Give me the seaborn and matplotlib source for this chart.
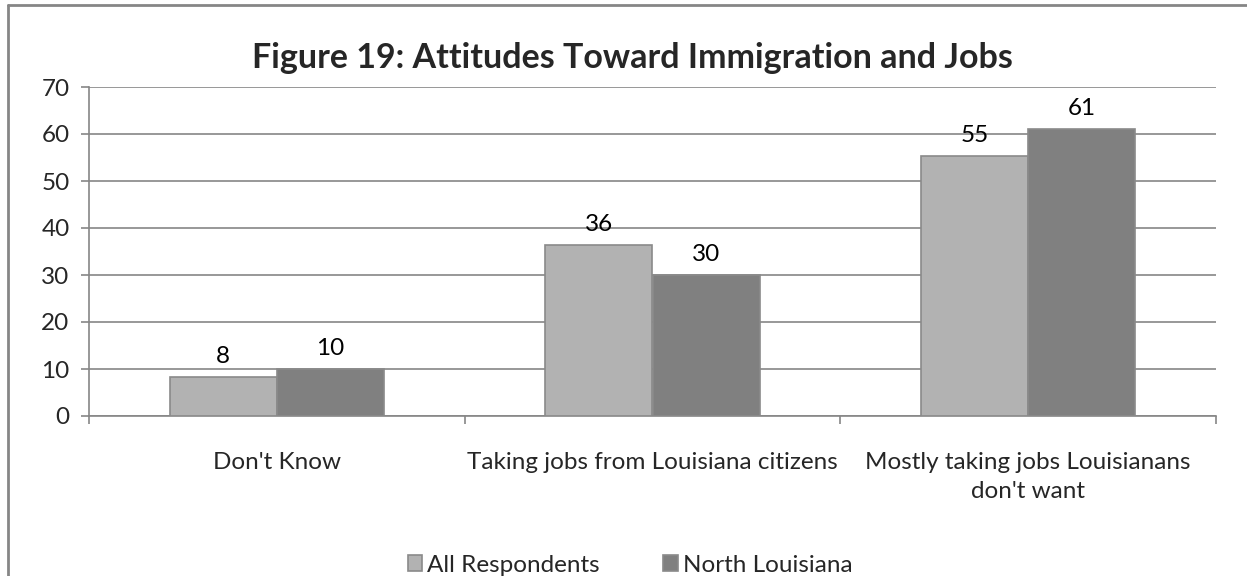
import numpy as np
import pandas as pd
import seaborn as sns
import matplotlib.pyplot as plt
from matplotlib.lines import Line2D

# values (bar heights), labels shown rounded
categories = ["Don't Know", "Taking jobs from Louisiana citizens",
              "Mostly taking jobs Louisianans\ndon't want"]
all_respondents = [8.4, 36.4, 55.3]
north_louisiana = [10.0, 30.0, 61.1]
series = ["All Respondents", "North Louisiana"]
colors = ["#b2b2b2", "#808080"]

df = pd.DataFrame({
    "category": categories * 2,
    "value": all_respondents + north_louisiana,
    "group": [series[0]] * 3 + [series[1]] * 3,
})

sns.set_style("white")
plt.rcParams['font.family'] = ['Lato', 'DejaVu Sans']

fig = plt.figure(figsize=(12.47, 5.76), dpi=100)
ax = fig.add_axes([89 / 1247, 1 - 416 / 576, (1216 - 89) / 1247, (416 - 87) / 576])

sns.barplot(data=df, x="category", y="value", hue="group", palette=colors,
            width=0.57, edgecolor="#8a8a8a", linewidth=1.2, saturation=1,
            ax=ax, legend=True, zorder=3)

for cont in ax.containers:
    ax.bar_label(cont, fmt="%.0f", padding=7, fontsize=17.5, color="black")

ax.set_ylim(0, 70)
ax.set_xlim(-0.5, 2.5)
ax.set_yticks(range(0, 71, 10))
ax.yaxis.grid(True, color="#868686", linewidth=1.2, zorder=0)
ax.set_xlabel("")
ax.set_ylabel("")

for s in ["top", "right"]:
    ax.spines[s].set_visible(False)
for s in ["left", "bottom"]:
    ax.spines[s].set_color("#868686")
    ax.spines[s].set_linewidth(1.2)

ax.tick_params(axis="y", which="major", length=6, width=1.2, color="#868686",
               labelsize=17.5, pad=8, left=True)
ax.tick_params(axis="x", which="major", length=0, labelsize=17.5, pad=26)
for lbl in ax.get_xticklabels():
    lbl.set_linespacing(1.45)
ax.set_xticks([-0.5, 0.5, 1.5, 2.5], minor=True)
ax.tick_params(axis="x", which="minor", length=6, width=1.2, color="#868686",
               bottom=True)

fig.text(632 / 1247, 1 - 58 / 576, "Figure 19: Attitudes Toward Immigration and Jobs",
         ha="center", va="center", fontsize=24.5, fontweight="bold")

handles, labels = ax.get_legend_handles_labels()
ax.get_legend().remove()
fig.legend(handles, labels, loc="center", bbox_to_anchor=(630 / 1247, 1 - 565 / 576),
           ncol=2, frameon=False, fontsize=17.5, handlelength=0.6, handleheight=0.6,
           handletextpad=0.2, columnspacing=2.6)

# chart area border (only top and left visible in the crop)
fig.add_artist(Line2D([7.5 / 1247, 7.5 / 1247], [0, 1 - 4.5 / 576],
                      transform=fig.transFigure, color="#868686", linewidth=2))
fig.add_artist(Line2D([7.5 / 1247, 1], [1 - 4.5 / 576, 1 - 4.5 / 576],
                      transform=fig.transFigure, color="#868686", linewidth=2))

fig.savefig("out.png", dpi=100)
